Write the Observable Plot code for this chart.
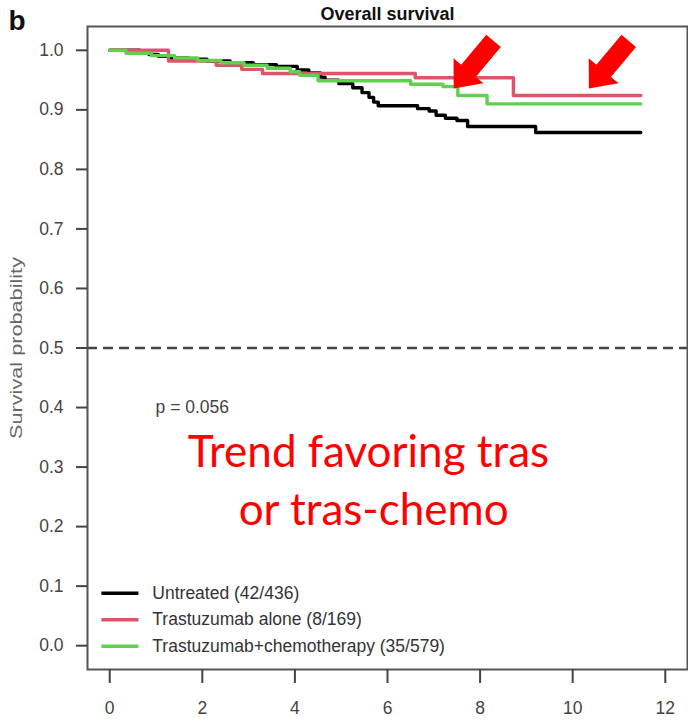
<!DOCTYPE html>
<html><head><meta charset="utf-8">
<script src="https://cdn.jsdelivr.net/npm/d3@7"></script>
<script src="https://cdn.jsdelivr.net/npm/@observablehq/plot@0.6"></script>
<style>
body{margin:0;background:#fff;}
#chart svg{display:block;}
</style>
</head><body><div id="chart"></div>
<script>
// ---- data ----
const groups = ["Untreated (42/436)", "Trastuzumab alone (8/169)", "Trastuzumab+chemotherapy (35/579)"];
const groupColors = ["#000000", "#DF536B", "#61D04F"];

const untreatedTime = [0, 0.65, 0.85, 1.05, 1.3, 1.7, 2.1, 2.6, 3.1, 3.6, 4.05, 4.3, 4.55, 4.65, 4.95, 5.25, 5.45, 5.6, 5.7, 5.8, 6.65, 6.9, 7.05, 7.25, 7.5, 7.73, 9.2, 11.47];
const untreatedSurv = [1.000, 0.997, 0.993, 0.990, 0.987, 0.985, 0.982, 0.979, 0.976, 0.973, 0.967, 0.962, 0.955, 0.950, 0.944, 0.937, 0.929, 0.921, 0.913, 0.907, 0.902, 0.898, 0.891, 0.886, 0.882, 0.872, 0.862, 0.862];

const trasTime = [0, 1.27, 2.3, 2.85, 3.3, 6.6, 8.72, 11.47];
const trasSurv = [1.000, 0.982, 0.975, 0.968, 0.961, 0.954, 0.924, 0.924];

const chemoTime = [0, 0.35, 0.9, 1.4, 1.9, 2.4, 2.9, 3.4, 3.9, 4.1, 4.5, 6.5, 7.2, 7.52, 8.15, 11.47];
const chemoSurv = [1.000, 0.995, 0.991, 0.987, 0.983, 0.979, 0.975, 0.970, 0.964, 0.958, 0.949, 0.943, 0.939, 0.924, 0.910, 0.910];

const xTicks = [0, 2, 4, 6, 8, 10, 12];
const yTicks = [0, 0.1, 0.2, 0.3, 0.4, 0.5, 0.6, 0.7, 0.8, 0.9, 1.0];
const medianLine = [0.5];
const titleText = "Overall survival";
const panelLabel = "b";
const yLabel = "Survival probability";
const pValueText = "p = 0.056";
const noteLines = ["Trend favoring tras", "or tras-chemo"];
const arrowTips = [{t: 7.43, s: 0.936}, {t: 10.35, s: 0.936}];

// ---- build ----
const series = [[untreatedTime, untreatedSurv], [trasTime, trasSurv], [chemoTime, chemoSurv]];
const rows = [];
series.forEach(([T, S], k) => T.forEach((t, i) => rows.push({group: groups[k], t, s: S[i]})));
const legendRows = groups.map((g, i) => ({g, y: 0.088 - i * 0.0445}));

const blockArrow = {
  draw(ctx, l) {
    const w = 9.5, h = 19.5, hl = 23, b = l - hl;
    ctx.moveTo(-w, 0); ctx.lineTo(w, 0); ctx.lineTo(w, -b); ctx.lineTo(h, -b);
    ctx.lineTo(0, -l); ctx.lineTo(-h, -b); ctx.lineTo(-w, -b); ctx.closePath();
  }
};

const font = "'Liberation Sans', Arial, sans-serif";
const chart = Plot.plot({
  width: 688, height: 721,
  marginLeft: 87, marginRight: 1, marginTop: 26, marginBottom: 52,
  style: {fontFamily: font, background: "#fff"},
  x: {domain: [-0.48, 12.48]},
  y: {domain: [-0.04, 1.04]},
  color: {domain: groups, range: groupColors},
  marks: [
    Plot.ruleY(medianLine, {stroke: "#444", strokeWidth: 2.5, strokeDasharray: "10,6"}),
    Plot.line(rows, {x: "t", y: "s", z: "group", stroke: "group", curve: "step-after", strokeWidth: 3.4}),
    Plot.frame({stroke: "#555", strokeWidth: 2}),
    Plot.axisY(yTicks, {tickSize: 11, tickPadding: 13, tickFormat: d3.format(".1f"), fontSize: 17.5, color: "#444", strokeWidth: 2, label: null}),
    Plot.axisX(xTicks, {tickSize: 14, tickPadding: 18, fontSize: 17.5, color: "#444", strokeWidth: 2, label: null}),
    Plot.text([yLabel], {frameAnchor: "left", dx: -71, rotate: -90, textAnchor: "middle", fontSize: 17, fill: "#666"}),
    Plot.text([titleText], {frameAnchor: "top", dy: -7, lineAnchor: "bottom", fontSize: 18, fontWeight: "bold", fill: "#111"}),
    Plot.text([panelLabel], {frameAnchor: "top-left", dx: -79, dy: 3, lineAnchor: "bottom", textAnchor: "start", fontSize: 28, fontWeight: "bold", fill: "#111"}),
    Plot.text([pValueText], {x: 0.99, y: 0.40, textAnchor: "start", fontSize: 17.5, fill: "#444"}),
    Plot.text([noteLines[0]], {x: 5.59, y: 0.323, fontSize: 44, fill: "#ff0000", fontFamily: "Lato, 'Open Sans', sans-serif"}),
    Plot.text([noteLines[1]], {x: 5.70, y: 0.227, fontSize: 44, fill: "#ff0000", fontFamily: "Lato, 'Open Sans', sans-serif"}),
    Plot.vector(arrowTips, {x: "t", y: "s", length: 62, rotate: 220, anchor: "end", shape: blockArrow, fill: "#ff0000", stroke: "none"}),
    Plot.link(legendRows, {x1: -0.18, x2: 0.62, y1: "y", y2: "y", stroke: "g", strokeWidth: 3.5}),
    Plot.text(legendRows, {x: 0.92, y: "y", text: "g", textAnchor: "start", fontSize: 17.5, fill: "#333"})
  ]
});
// stretch the rotated axis title to the reference length
d3.select(chart).selectAll("text").filter(function () { return this.textContent === yLabel; })
  .attr("textLength", 182).attr("lengthAdjust", "spacingAndGlyphs");
document.getElementById("chart").append(chart);
</script>
</body></html>
